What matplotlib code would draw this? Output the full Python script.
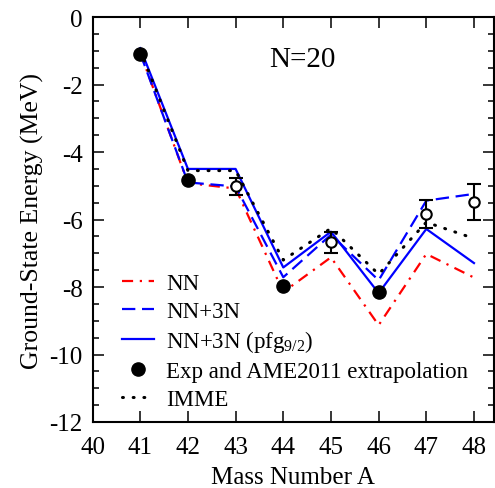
import matplotlib
matplotlib.use("Agg")
import matplotlib.pyplot as plt
from matplotlib.ticker import MultipleLocator

# mass numbers
mass = [41, 42, 43, 44, 45, 46, 47, 48]

# calculated ground-state energies (MeV)
nn = [-1.05, -4.92, -5.08, -8.15, -7.12, -9.13, -7.02, -7.72]
nn_3n = [-1.08, -4.90, -5.02, -7.71, -6.45, -7.80, -5.44, -5.24]
nn_3n_pfg = [-0.92, -4.50, -4.50, -7.42, -6.36, -8.18, -6.28, -7.29]
imme = [-0.98, -4.55, -4.55, -7.20, -6.26, -7.62, -6.08, -6.56]

# experiment (filled) and AME2011 extrapolation (open, with errors)
exp_mass = [41, 42, 44, 46]
exp_val = [-1.08, -4.84, -7.96, -8.15]
ame_mass = [43, 45, 47, 48]
ame_val = [-5.02, -6.68, -5.84, -5.47]
ame_err = [0.24, 0.31, 0.41, 0.53]

plt.rcParams['font.family'] = ['Liberation Serif', 'DejaVu Serif']
plt.rcParams['mathtext.fontset'] = 'custom'
plt.rcParams['mathtext.rm'] = 'Liberation Serif'
plt.rcParams['mathtext.it'] = 'Liberation Serif'
plt.rcParams['axes.unicode_minus'] = False

fig = plt.figure(figsize=(4.95, 4.89), dpi=100)
ax = fig.add_axes([0.187, 0.135, 0.811, 0.828])

ax.plot(mass, nn, color='red', lw=1.6, ls=(0, (5, 3, 1, 3)), label='NN')
ax.plot(mass, nn_3n, color='blue', lw=1.6, ls=(0, (6, 3)), label='NN+3N')
ax.plot(mass, nn_3n_pfg, color='blue', lw=1.6, ls='-',
        label=r'NN+3N (pfg$_{9/2}$)')
ax.plot(exp_mass, exp_val, 'o', color='black', ms=9.5, ls='none',
        label='Exp and AME2011 extrapolation')
ax.plot(mass, imme, color='black', lw=2.2, ls=(0, (0.3, 3.2)),
        dash_capstyle='round', label='IMME')
ax.errorbar(ame_mass, ame_val, yerr=ame_err, fmt='o', mfc='white',
            mec='black', ecolor='black', ms=7.5, mew=1.5, elinewidth=1.5,
            capsize=5, capthick=1.5)

ax.text(44.4, -1.25, 'N=20', fontsize=21, ha='center', va='center')

ax.set_xlim(40, 48.42)
ax.set_ylim(-12, 0)
ax.xaxis.set_major_locator(MultipleLocator(1))
ax.yaxis.set_major_locator(MultipleLocator(2))
ax.yaxis.set_minor_locator(MultipleLocator(0.5))
ax.tick_params(which='both', direction='in', top=True, right=True,
               labelsize=18, width=1.1)
ax.tick_params(axis='y', which='major', length=8, pad=7)
ax.tick_params(axis='x', which='major', length=8, pad=10)
ax.tick_params(which='minor', length=4.5)
for s in ax.spines.values():
    s.set_linewidth(1.5)

ax.set_xlabel('Mass Number A', fontsize=18, labelpad=6)
ax.set_ylabel('Ground-State Energy (MeV)', fontsize=18.5, labelpad=4)

ax.legend(loc='lower left', bbox_to_anchor=(0.04, -0.005), frameon=False,
          fontsize=16.5, handlelength=1.4, handletextpad=0.5,
          labelspacing=0.3, borderaxespad=0.2, borderpad=0.4)

fig.savefig('out.png', dpi=100)
